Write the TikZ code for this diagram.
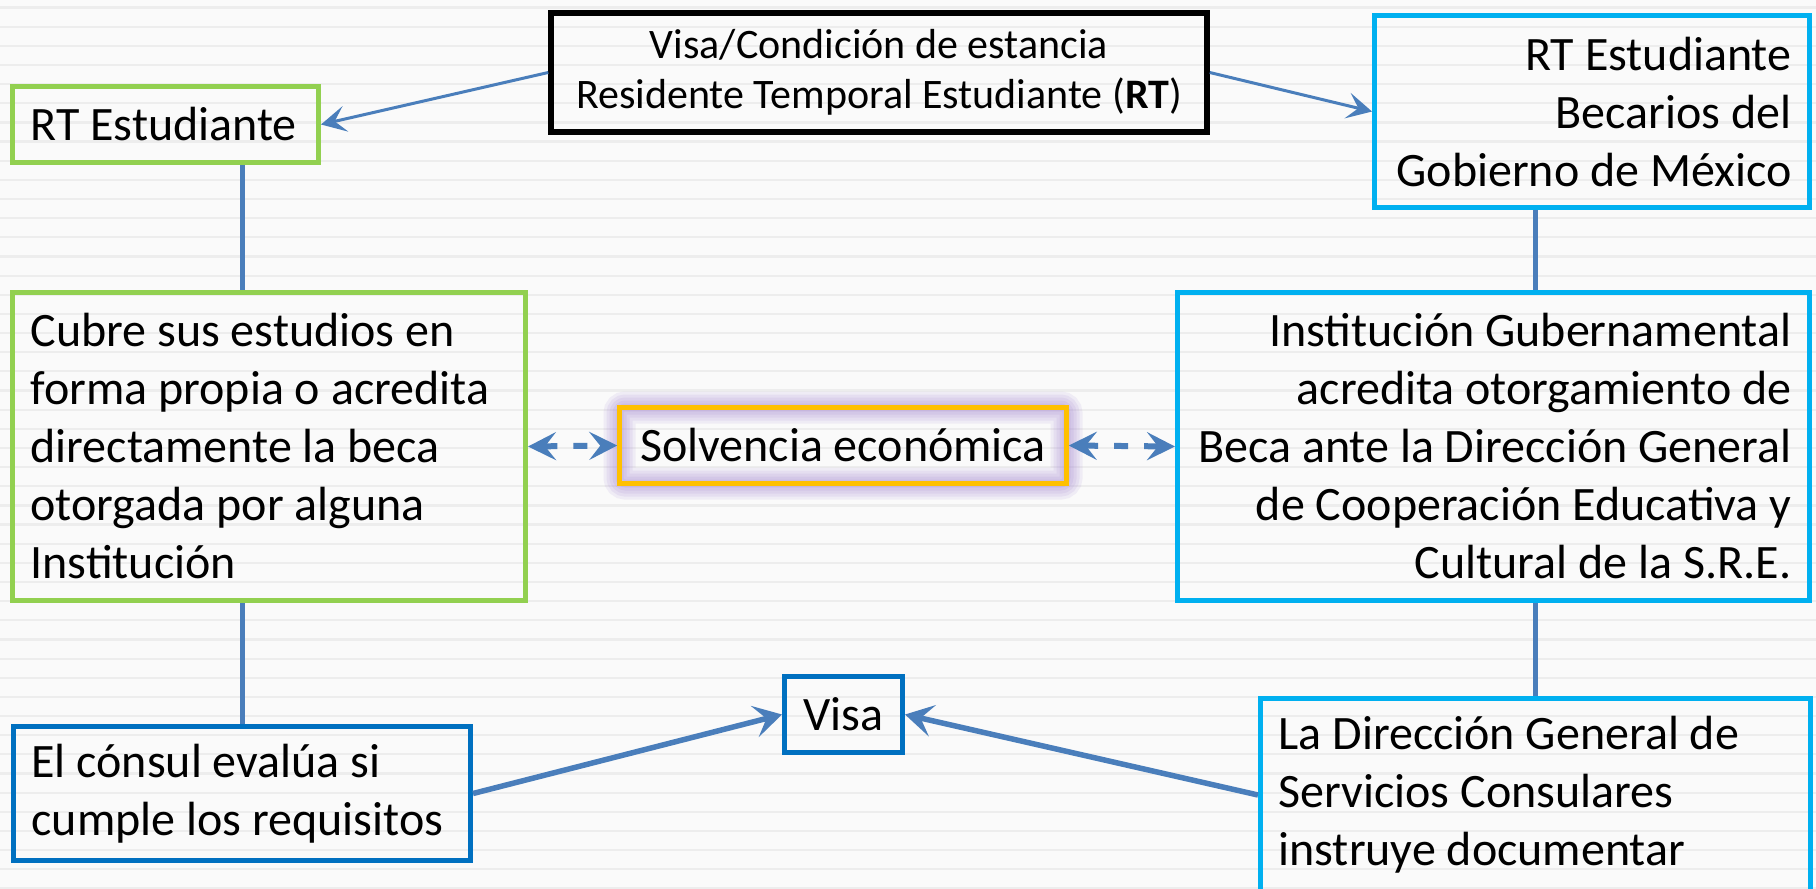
\documentclass[tikz,border=0pt]{standalone}
\usepackage{fontspec}
\setmainfont{Carlito}
\usetikzlibrary{arrows.meta,calc}
\definecolor{bgc}{HTML}{FAFAFA}
\definecolor{stripe}{HTML}{EDEDED}
\definecolor{gr}{HTML}{92D050}
\definecolor{lb}{HTML}{00B0F0}
\definecolor{db}{HTML}{0070C0}
\definecolor{org}{HTML}{FFC000}
\definecolor{con}{HTML}{4A7EBB}
\definecolor{glow}{HTML}{A98ED4}
\newcommand\mainfs{\fontsize{48}{58}\selectfont}
\newcommand\topfs{\fontsize{42}{50}\selectfont}
\begin{document}
\begin{tikzpicture}[x=1pt,y=-1pt,
  bx/.style={draw, line width=5pt, inner xsep=18pt, inner ysep=0pt, font=\mainfs, text=black},
  thinarrow/.style={con, line width=3pt, -{Stealth[length=25pt,width=26pt,inset=11pt]}},
  thickarrow/.style={con, line width=5.5pt, -{Stealth[length=28pt,width=32pt,inset=12pt]}},
  dasharrow/.style={con, line width=6pt, dash pattern=on 14pt off 16pt,
     {Stealth[length=28pt,width=28pt,inset=11pt]}-{Stealth[length=28pt,width=28pt,inset=11pt]}},
  vline/.style={con, line width=5pt}]
\useasboundingbox (0,0) rectangle (1816,889);
\clip (0,0) rectangle (1816,889);
\fill[bgc] (0,0) rectangle (1816,889);
\foreach \i in {0,...,46}
  \draw[stripe, line width=2.2pt] (0,{7.5+19.15*\i}) -- (1816,{7.5+19.15*\i});

% glow around Solvencia
\foreach \w/\o in {32/0.13, 26/0.14, 20/0.15, 14/0.16, 8/0.17}
  \draw[glow, line width=\w pt, opacity=\o, rounded corners=6pt] (619.5,407.5) rectangle (1066.5,483.5);

\node[bx, draw=black, line width=5.5pt, font=\topfs, align=center,
  minimum width=656pt, minimum height=119pt] (black) at (879,72.5)
  {Visa/Condición de estancia\\Residente Temporal Estudiante (\textbf{RT})};

\node[bx, draw=gr, minimum width=306pt, minimum height=76pt, text width=270pt, align=flush left]
  (rt) at (165.5,124.5) {RT Estudiante};

\node[bx, draw=lb, minimum width=435pt, minimum height=192pt, text width=399pt, align=flush right]
  (rtb) at (1592,111.5) {RT Estudiante\\Becarios del\\Gobierno de México};

\node[bx, draw=gr, minimum width=513pt, minimum height=308pt, text width=477pt, align=flush left]
  (cover) at (269,446.5) {Cubre sus estudios en\\\mbox{forma propia o acredita}\\directamente la beca\\otorgada por alguna\\Institución};

\node[bx, draw=lb, minimum width=632pt, minimum height=308pt, text width=596pt, align=flush right]
  (inst) at (1493.5,446.5) {Institución Gubernamental\\acredita otorgamiento de\\\mbox{Beca ante la Dirección General}\\\mbox{de Cooperación Educativa y}\\Cultural de la S.R.E.};

\node[bx, draw=org, line width=4.5pt, minimum width=447pt, minimum height=76pt, align=center]
  (solv) at (843,445.5) {Solvencia económica};

\node[bx, draw=db, minimum width=118pt, minimum height=76pt, inner xsep=4pt, align=center]
  (visa) at (843.5,714.5) {Visa};

\node[bx, draw=db, minimum width=457pt, minimum height=134pt, text width=421pt, align=flush left]
  (consul) at (242,793.5) {El cónsul evalúa si\\cumple los requisitos};

\node[bx, draw=lb, minimum width=550pt, minimum height=193pt, text width=514pt, align=flush left]
  (dgsc) at (1535.5,795) {La Dirección General de\\Servicios Consulares\\instruye documentar};

% connectors
\draw[thinarrow] (black.west) -- (rt.east);
\draw[thinarrow] (black.east) -- (rtb.west);
\draw[vline] (rt.south -| consul.north) -- (cover.north -| consul.north);
\draw[vline] (cover.south -| consul.north) -- (consul.north);
\draw[vline] (rtb.south -| dgsc.north) -- (inst.north -| dgsc.north);
\draw[vline] (inst.south -| dgsc.north) -- (dgsc.north);
\draw[thickarrow] (consul.east) -- (visa.west);
\draw[thickarrow] (dgsc.west) -- (visa.east);
\draw[dasharrow] (cover.east) -- (solv.west);
\draw[dasharrow] (solv.east) -- (inst.west);
\end{tikzpicture}
\end{document}
